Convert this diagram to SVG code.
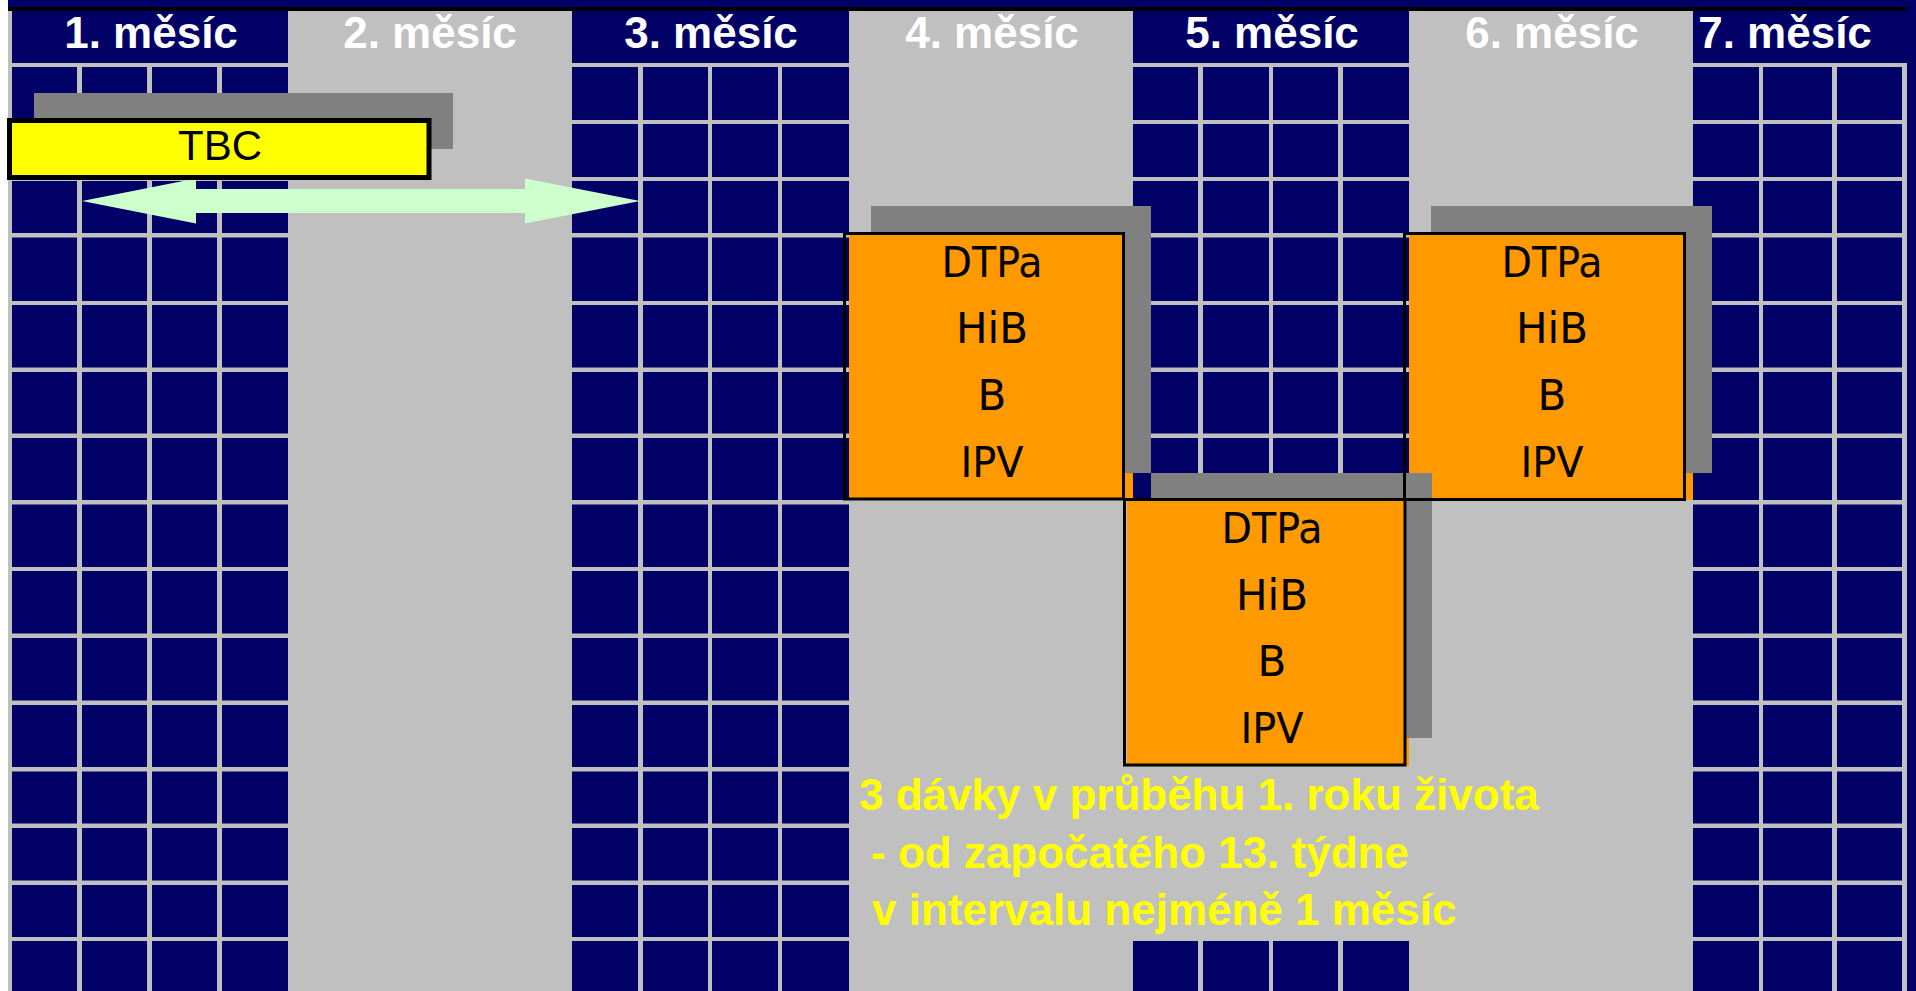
<svg xmlns="http://www.w3.org/2000/svg" width="1916" height="991" viewBox="0 0 1916 991">
<style>
.navy{fill:#000066}
.gap{fill:#C0C0C0}
.hdr{font-family:"Liberation Sans",Arial,sans-serif;font-weight:bold;font-size:44px;fill:#FFFFFF;text-anchor:middle}
.shadow{fill:#808080}
.orange{fill:#FF9900}
.outline{fill:none;stroke:#000000;stroke-width:3}
.vac{font-family:"DejaVu Sans",sans-serif;font-size:42px;fill:#000000;text-anchor:middle}
.note{font-family:"Liberation Sans",Arial,sans-serif;font-weight:bold;font-size:44px;fill:#FFFF00}
</style>
<g id="background">
<rect x="0" y="0" width="1916" height="991" fill="#FFFFFF"/>
<rect x="8" y="11" width="1899" height="980" fill="#C0C0C0"/>
<rect x="8" y="0" width="1908" height="7" class="navy"/>
<rect x="1907" y="0" width="9" height="991" class="navy"/>
<rect x="8" y="7" width="1899" height="4" fill="#000000"/>
</g>
<g id="grid">
<rect x="12" y="11" width="276" height="980" class="navy"/>
<rect x="572" y="11" width="277" height="980" class="navy"/>
<rect x="1133" y="11" width="276" height="489" class="navy"/>
<rect x="1133" y="941" width="276" height="50" class="navy"/>
<rect x="1693" y="11" width="214" height="52" class="navy"/>
<rect x="1693" y="63" width="209" height="928" class="navy"/>
<rect x="8" y="63" width="1899" height="4" class="gap"/>
<rect x="8" y="120" width="1899" height="4" class="gap"/>
<rect x="8" y="177" width="1899" height="4" class="gap"/>
<rect x="8" y="233" width="1899" height="4.5" class="gap"/>
<rect x="8" y="301" width="1899" height="4" class="gap"/>
<rect x="8" y="367.5" width="1899" height="4.5" class="gap"/>
<rect x="8" y="433.5" width="1899" height="4.5" class="gap"/>
<rect x="8" y="500" width="1899" height="4.5" class="gap"/>
<rect x="8" y="567" width="1899" height="4" class="gap"/>
<rect x="8" y="633.5" width="1899" height="4.5" class="gap"/>
<rect x="8" y="700.5" width="1899" height="4.5" class="gap"/>
<rect x="8" y="767" width="1899" height="4.5" class="gap"/>
<rect x="8" y="823.5" width="1899" height="4.5" class="gap"/>
<rect x="8" y="880.5" width="1899" height="4.5" class="gap"/>
<rect x="8" y="937" width="1899" height="4" class="gap"/>
<rect x="8" y="11" width="4" height="980" class="gap"/>
<rect x="77" y="63" width="5" height="928" class="gap"/>
<rect x="147" y="63" width="5" height="928" class="gap"/>
<rect x="217" y="63" width="5" height="928" class="gap"/>
<rect x="638" y="63" width="5" height="928" class="gap"/>
<rect x="708" y="63" width="4" height="928" class="gap"/>
<rect x="778" y="63" width="4" height="928" class="gap"/>
<rect x="1198" y="63" width="5" height="928" class="gap"/>
<rect x="1269" y="63" width="4" height="928" class="gap"/>
<rect x="1338" y="63" width="5" height="928" class="gap"/>
<rect x="1759" y="63" width="4" height="928" class="gap"/>
<rect x="1832" y="63" width="5" height="928" class="gap"/>
<rect x="1902" y="63" width="5" height="928" class="gap"/>
</g>
<g id="headers">
<text class="hdr" x="151" y="48">1. měsíc</text>
<text class="hdr" x="430" y="48">2. měsíc</text>
<text class="hdr" x="711" y="48">3. měsíc</text>
<text class="hdr" x="992" y="48">4. měsíc</text>
<text class="hdr" x="1272" y="48">5. měsíc</text>
<text class="hdr" x="1552" y="48">6. měsíc</text>
<text class="hdr" x="1785" y="48">7. měsíc</text>
</g>
<g id="connectors">
<polygon points="82,201 196,178.5 196,189 525,189 525,178.5 640,201 525,223.5 525,213 196,213 196,223.5" fill="#CCFFCC"/>
</g>
<g id="node-tbc">
<rect x="34" y="93" width="419" height="56" class="shadow"/>
<rect x="9.5" y="120.5" width="419.5" height="57" fill="#FFFF00" stroke="#000000" stroke-width="5"/>
<text x="220" y="160" font-family="Liberation Sans, Arial, sans-serif" font-size="42" text-anchor="middle" fill="#000000">TBC</text>
</g>
<g id="node-dose1">
<rect x="871" y="206" width="280" height="267" class="shadow"/>
<polygon points="849,232 1125,232 1125,473 1133,473 1133,500 849,500" class="orange"/>
<rect x="844.5" y="233.5" width="279" height="265.5" class="outline"/>
<text class="vac" x="992" y="277" textLength="101" lengthAdjust="spacingAndGlyphs">DTPa</text>
<text class="vac" x="992" y="343">HiB</text>
<text class="vac" x="992" y="410">B</text>
<text class="vac" x="992" y="477" textLength="63" lengthAdjust="spacingAndGlyphs">IPV</text>
</g>
<g id="node-dose2">
<rect x="1151" y="473" width="281" height="265" class="shadow"/>
<polygon points="1127,500 1406,500 1406,738 1409,738 1409,766 1127,766" class="orange"/>
<rect x="1124.5" y="499.5" width="280.5" height="265.5" class="outline"/>
<text class="vac" x="1272" y="543" textLength="101" lengthAdjust="spacingAndGlyphs">DTPa</text>
<text class="vac" x="1272" y="610">HiB</text>
<text class="vac" x="1272" y="676">B</text>
<text class="vac" x="1272" y="743" textLength="63" lengthAdjust="spacingAndGlyphs">IPV</text>
</g>
<g id="node-dose3">
<rect x="1431" y="206" width="281" height="267" class="shadow"/>
<polygon points="1409,232 1686,232 1686,473 1693,473 1693,500 1432,500 1432,473 1409,473" class="orange"/>
<rect x="1404.5" y="233.5" width="280" height="266" class="outline"/>
<text class="vac" x="1552" y="277" textLength="101" lengthAdjust="spacingAndGlyphs">DTPa</text>
<text class="vac" x="1552" y="343">HiB</text>
<text class="vac" x="1552" y="410">B</text>
<text class="vac" x="1552" y="477" textLength="63" lengthAdjust="spacingAndGlyphs">IPV</text>
</g>
<g id="note">
<text class="note" x="859" y="810">3 dávky v průběhu 1. roku života</text>
<text class="note" x="871" y="868">- od započatého 13. týdne</text>
<text class="note" x="872" y="925">v intervalu nejméně 1 měsíc</text>
</g>
</svg>
